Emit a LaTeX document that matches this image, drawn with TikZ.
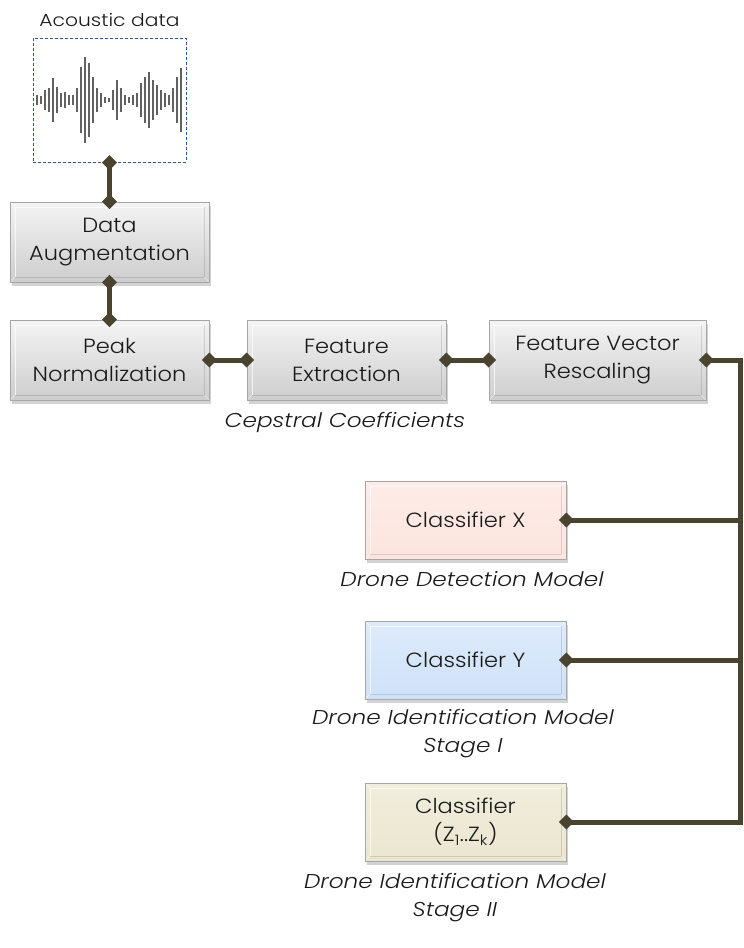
\documentclass[tikz,border=0pt]{standalone}
\usepackage{fontspec}
\setmainfont{Poppins}
\newfontfamily\boxfont[FakeStretch=1.1,UprightFont={* Light},ItalicFont={* Light Italic}]{Poppins}
\newfontfamily\lblfont[FakeStretch=1.16,UprightFont={* Light},ItalicFont={* Light Italic}]{Poppins}
\usetikzlibrary{arrows.meta,shadows}
\definecolor{conn}{HTML}{4A4330}
\definecolor{txt}{HTML}{1A1A1A}
\definecolor{boxgray}{HTML}{E4E4E4}
\definecolor{boxpink}{HTML}{FDE4DE}
\definecolor{boxblue}{HTML}{CFE2F9}
\definecolor{boxbeige}{HTML}{EBE6CF}
\definecolor{dashblue}{HTML}{2F5597}
\begin{document}
\begin{tikzpicture}[x=1pt,y=-1pt,
  stepbox/.style={draw=black!35, line width=0.6pt, minimum width=199pt, minimum height=80pt,
    align=center, font=\boxfont\fontsize{20.5}{28}\selectfont, text=txt, inner sep=2pt,
    drop shadow={shadow xshift=2pt, shadow yshift=-4pt, opacity=0.35},
    path picture={
      \draw[white, line width=1pt, opacity=0.75]
        ([shift={(5pt,5pt)}]path picture bounding box.south west) --
        ([shift={(5pt,-5pt)}]path picture bounding box.north west) --
        ([shift={(-5pt,-5pt)}]path picture bounding box.north east);
      \draw[black, line width=0.6pt, opacity=0.12]
        ([shift={(5pt,5pt)}]path picture bounding box.south west) --
        ([shift={(-5pt,5pt)}]path picture bounding box.south east) --
        ([shift={(-5pt,-5pt)}]path picture bounding box.north east);
      \draw[white, line width=0.6pt, opacity=0.6]
        (path picture bounding box.north west) -- ([shift={(5pt,-5pt)}]path picture bounding box.north west)
        (path picture bounding box.north east) -- ([shift={(-5pt,-5pt)}]path picture bounding box.north east)
        (path picture bounding box.south west) -- ([shift={(5pt,5pt)}]path picture bounding box.south west)
        (path picture bounding box.south east) -- ([shift={(-5pt,5pt)}]path picture bounding box.south east);
    }},
  graybox/.style={stepbox, top color=white!60!boxgray, bottom color=boxgray!90!black},
  lbl/.style={font=\lblfont\fontsize{20}{28}\selectfont\itshape, text=txt, align=center},
  link/.style={draw=conn, line width=5pt, {Turned Square[length=15pt,width=15pt]}-{Turned Square[length=15pt,width=15pt]}, shorten <=-7.5pt, shorten >=-7.5pt},
  linkone/.style={draw=conn, line width=5pt, {Turned Square[length=15pt,width=15pt]}-, shorten <=-7.5pt},
  bar/.style={draw=black!62, line width=2.3pt}
]
\useasboundingbox (0,0) rectangle (744,948);

% acoustic data
\node[font=\lblfont\fontsize{17.5}{20}\selectfont, text=txt] (acl) at (109.5,20) {Acoustic data};
\node[draw=dashblue, densely dashed, line width=1pt, minimum width=153pt, minimum height=124pt, inner sep=0pt] (ac) at (109.5,100) {};
\foreach \x/\h in {36.7/5, 41/4, 45/10, 49/12, 53.3/22, 57.3/13, 61.3/7, 65/8, 69/5, 72.7/5, 76.7/12, 80.7/33, 84.7/43, 88.7/37, 92.7/23, 96.7/12, 100.7/7, 104.7/3, 108.7/2, 112.7/10, 116.7/20, 120.7/12, 124.7/5, 128.7/3, 132.7/5, 136.7/7, 140.7/17, 144.7/23, 148.7/28, 152.7/20, 156.7/15, 160.7/10, 164.7/7, 168.7/5, 172.7/12, 176.7/23, 180.7/32}
  \draw[bar] (\x,100-\h) -- (\x,100+\h);

% boxes
\node[graybox] (da) at (109.5,242) {Data\\Augmentation};
\node[graybox] (pn) at (109.5,360) {Peak\\Normalization};
\node[graybox] (fe) at (346.5,360) {Feature\\Extraction};
\node[graybox, minimum width=217pt] (fvr) at (597.5,360) {Feature Vector\\Rescaling};
\node[lbl] (cc) at (345,423) {Cepstral Coefficients};

\node[stepbox, minimum width=201pt, minimum height=78pt, top color=boxpink!70!white, bottom color=boxpink] (cx) at (465.5,520) {Classifier X};
\node[lbl] (cxl) at (472,579) {Drone Detection Model};
\node[stepbox, minimum width=201pt, minimum height=78pt, top color=boxblue!70!white, bottom color=boxblue] (cy) at (465.5,660) {Classifier Y};
\node[lbl] (cyl) at (463,734) {Drone Identification Model\\Stage I};
\node[stepbox, minimum width=201pt, minimum height=78pt, top color=boxbeige!70!white, bottom color=boxbeige] (cz) at (465.5,822) {Classifier\\(Z\textsubscript{1}..Z\textsubscript{k})};
\node[lbl] (czl) at (455,898) {Drone Identification Model\\Stage II};

% connectors
\coordinate (rt) at (740,358);
\coordinate (rb) at (740,821);
\draw[link] (ac.south) -- (da.north);
\draw[link] (da.south) -- (pn.north);
\draw[link] (pn.east) -- (fe.west);
\draw[link] (fe.east) -- (fvr.west);
\draw[link] (fvr.east) -- (fvr.east -| rt) -- (cz.east -| rt) -- (cz.east);
\draw[linkone] (cx.east) -- (cx.east -| rt);
\draw[linkone] (cy.east) -- (cy.east -| rt);
\end{tikzpicture}
\end{document}
